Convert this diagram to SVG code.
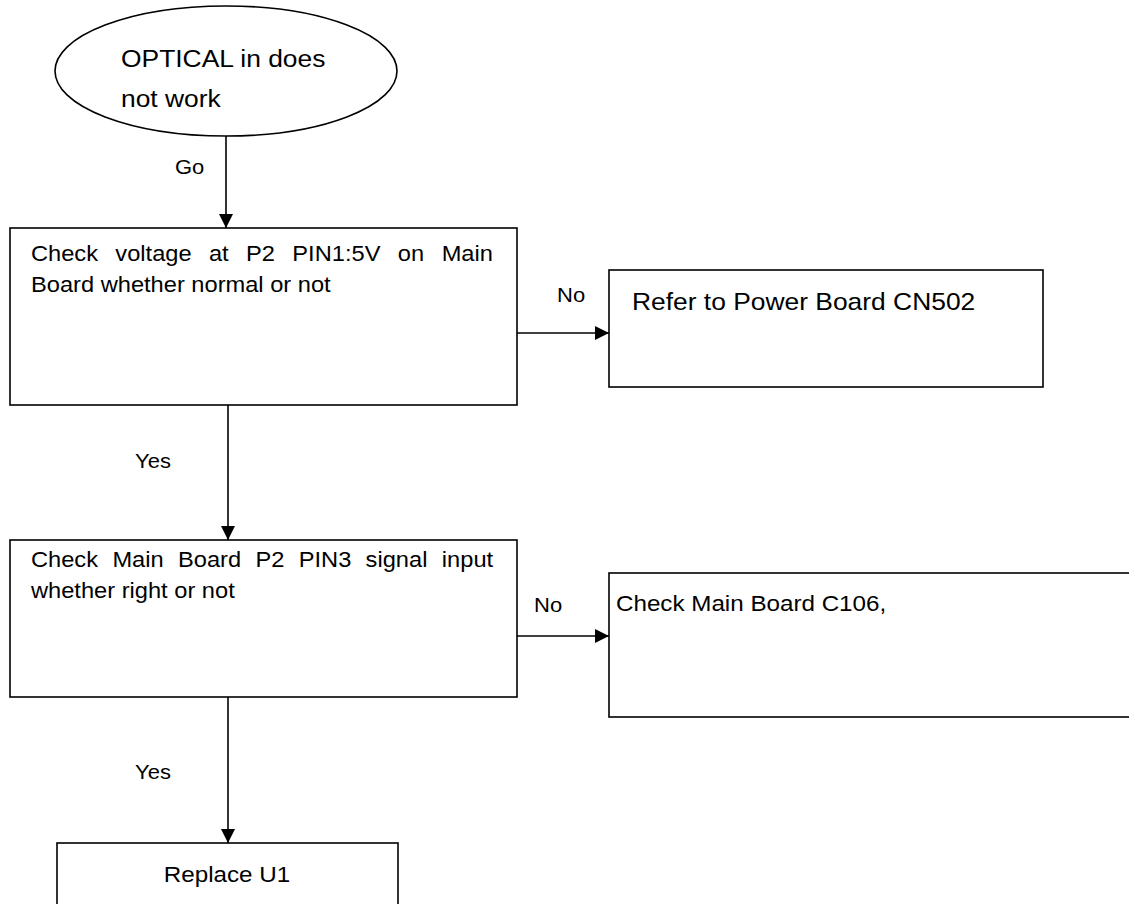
<svg xmlns="http://www.w3.org/2000/svg" width="1129" height="904" viewBox="0 0 1129 904">
<style>
.shape{fill:#fff;stroke:#000;stroke-width:1.6}
.conn{fill:none;stroke:#000;stroke-width:1.6}
text{font-family:"Liberation Sans",Arial,sans-serif;fill:#000}
.body{font-size:21.5px}
.big{font-size:24px}
.mid{font-size:22px}
.lbl{font-size:20px}
</style>
<defs>
<marker id="arr" markerUnits="userSpaceOnUse" markerWidth="15" markerHeight="14" refX="14" refY="7" orient="auto">
<path d="M0,0 L14,7 L0,14 Z" fill="#000"/>
</marker>
</defs>
<rect width="1129" height="904" fill="#fff"/>
<g id="connectors">
<line class="conn" x1="226" y1="136" x2="226" y2="228" marker-end="url(#arr)"/>
<line class="conn" x1="517" y1="333" x2="609" y2="333" marker-end="url(#arr)"/>
<line class="conn" x1="228" y1="405" x2="228" y2="540" marker-end="url(#arr)"/>
<line class="conn" x1="517" y1="636" x2="609" y2="636" marker-end="url(#arr)"/>
<line class="conn" x1="228" y1="697" x2="228" y2="843" marker-end="url(#arr)"/>
<text class="lbl" transform="translate(175,174) scale(1.1,1)">Go</text>
<text class="lbl" transform="translate(557,302) scale(1.1,1)">No</text>
<text class="lbl" transform="translate(135,468) scale(1.1,1)">Yes</text>
<text class="lbl" transform="translate(534,612) scale(1.1,1)">No</text>
<text class="lbl" transform="translate(135,779) scale(1.1,1)">Yes</text>
</g>
<g id="start">
<ellipse class="shape" cx="226" cy="71" rx="171" ry="65"/>
<text class="big" transform="translate(121,67) scale(1.1,1)"><tspan x="0" y="0">OPTICAL in does</tspan><tspan x="0" y="40">not work</tspan></text>
</g>
<g id="check-voltage">
<rect class="shape" x="10" y="228" width="507" height="177"/>
<text class="body" transform="translate(31,261) scale(1.1,1)"><tspan x="0" y="0">Check</tspan><tspan x="76.7" y="0">voltage</tspan><tspan x="161.8" y="0">at</tspan><tspan x="195.5" y="0">P2</tspan><tspan x="237.6" y="0">PIN1:5V</tspan><tspan x="333.5" y="0">on</tspan><tspan x="373.3" y="0">Main</tspan><tspan x="0" y="31">Board whether normal or not</tspan></text>
</g>
<g id="refer-power">
<rect class="shape" x="609" y="270" width="434" height="117"/>
<text class="big" transform="translate(632,310) scale(1.1,1)">Refer to Power Board CN502</text>
</g>
<g id="check-signal">
<rect class="shape" x="10" y="540" width="507" height="157"/>
<text class="body" transform="translate(31,567) scale(1.1,1)"><tspan x="0" y="0">Check</tspan><tspan x="74.0" y="0">Main</tspan><tspan x="133.6" y="0">Board</tspan><tspan x="204.0" y="0">P2</tspan><tspan x="243.4" y="0">PIN3</tspan><tspan x="304.2" y="0">signal</tspan><tspan x="373.5" y="0">input</tspan><tspan x="0" y="31">whether right or not</tspan></text>
</g>
<g id="check-c106">
<rect class="shape" x="609" y="573" width="530" height="144"/>
<text class="mid" transform="translate(616,611) scale(1.1,1)">Check Main Board C106,</text>
</g>
<g id="replace-u1">
<rect class="shape" x="57" y="843" width="341" height="70"/>
<text class="mid" text-anchor="middle" transform="translate(227,882) scale(1.1,1)">Replace U1</text>
</g>
</svg>
